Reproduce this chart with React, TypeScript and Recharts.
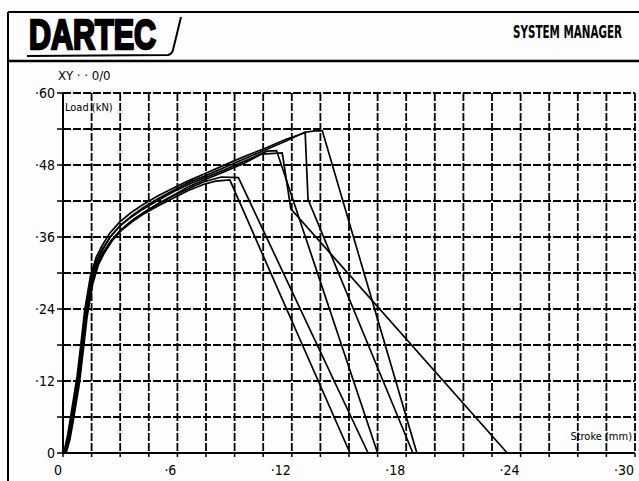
import { LineChart, Line, XAxis, YAxis, CartesianGrid } from 'recharts'

// stroke (mm) axis: labelled every 6, grid every 1.5
const strokeLabels = [0, 6, 12, 18, 24, 30]
const strokeGrid = [0, 1.5, 3, 4.5, 6, 7.5, 9, 10.5, 12, 13.5, 15, 16.5, 18, 19.5, 21, 22.5, 24, 25.5, 27, 28.5, 30]

// load (kN) axis: labelled every 12, grid every 6
const loadLabels = [0, 12, 24, 36, 48, 60]
const loadGrid = [0, 6, 12, 18, 24, 30, 36, 42, 48, 54, 60]

// [stroke, load] readings for each test run
const run1 = [
  [0.1, 0], [0.3, 2.5], [0.5, 6.2], [0.8, 12.2], [1.0, 17.6], [1.2, 23.2], [1.5, 28.8], [1.8, 31.6],
  [2.1, 33.4], [2.5, 35.3], [3.0, 37.0], [3.6, 38.5], [4.2, 39.8], [5.0, 41.2], [5.8, 42.5], [6.6, 43.8],
  [7.4, 44.8], [8.0, 45.3], [8.75, 45.5], [15.05, 0], [16.4, 0],
]
const run2 = [
  [0.13, 0], [0.33, 2.4], [0.53, 6.0], [0.83, 12.0], [1.03, 17.4], [1.23, 23.0], [1.53, 28.5], [1.83, 31.6],
  [2.13, 33.4], [2.53, 35.4], [3.03, 37.2], [3.63, 38.8], [4.23, 40.1], [5.03, 41.6], [5.83, 42.9], [6.6, 44.1],
  [7.4, 45.2], [8.3, 46.0], [9.2, 45.9], [16.0, 0],
]
const run3 = [
  [0.07, 0], [0.27, 2.7], [0.47, 6.5], [0.77, 12.5], [0.97, 17.9], [1.17, 23.5], [1.47, 29.1], [1.77, 32.2],
  [2.07, 34.0], [2.47, 36.0], [2.97, 37.8], [3.57, 39.3], [4.17, 40.6], [4.97, 42.1], [5.77, 43.5], [6.6, 44.8],
  [7.4, 45.8], [8.4, 47.1], [9.5, 48.6], [10.7, 50.3], [11.2, 50.4], [16.5, 0],
]
const run4 = [
  [0.16, 0], [0.36, 2.2], [0.56, 5.8], [0.86, 11.6], [1.06, 17.0], [1.26, 22.6], [1.56, 28.2], [1.86, 31.4],
  [2.16, 33.3], [2.56, 35.3], [3.06, 37.1], [3.66, 38.7], [4.26, 40.1], [5.06, 41.7], [5.86, 43.1], [6.6, 44.4],
  [7.4, 45.5], [8.4, 46.8], [9.5, 48.3], [10.4, 49.8], [11.5, 50.0], [11.95, 40.7], [23.3, 0],
]
const run5 = [
  [0.1, 0], [0.3, 2.6], [0.5, 6.3], [0.8, 12.3], [1.0, 17.7], [1.2, 23.3], [1.5, 29.0], [1.8, 32.1],
  [2.1, 34.0], [2.5, 36.1], [3.0, 37.9], [3.6, 39.5], [4.2, 40.9], [5.0, 42.4], [5.8, 43.8], [6.6, 45.1],
  [7.4, 46.1], [8.4, 47.5], [9.5, 49.0], [10.6, 50.5], [11.7, 52.0], [12.7, 53.5], [12.85, 42.3], [18.35, 0],
]
const run6 = [
  [0.04, 0], [0.24, 2.9], [0.44, 6.8], [0.74, 12.8], [0.94, 18.2], [1.14, 23.8], [1.44, 29.5], [1.74, 32.6],
  [2.04, 34.5], [2.44, 36.6], [2.94, 38.4], [3.54, 40.0], [4.14, 41.3], [4.94, 42.8], [5.74, 44.1], [6.6, 45.4],
  [7.4, 46.5], [8.4, 47.9], [9.5, 49.4], [10.6, 50.8], [11.7, 52.3], [12.8, 53.5], [13.2, 53.7], [13.6, 53.7],
  [18.56, 0],
]

const runs = [run1, run2, run3, run4, run5, run6].map(r => r.map(([stroke, load]) => ({ stroke, load })))

const narrow = "'Liberation Sans Narrow', 'DejaVu Sans Condensed', sans-serif"

const fmt = (v: number) => (v === 0 ? '0' : '\u00b7' + v)

const StrokeTick = (props: any) => {
  const { x, y, payload } = props
  if (!strokeLabels.includes(payload.value)) return null
  return (
    <text x={x - 1} y={y + 16} textAnchor="end" fontSize={14} fontFamily={narrow} fill="#000">
      {fmt(payload.value)}
    </text>
  )
}

const LoadTick = (props: any) => {
  const { x, y, payload } = props
  if (!loadLabels.includes(payload.value)) return null
  return (
    <text x={x} y={y + 5} textAnchor="end" fontSize={14} fontFamily={narrow} fill="#000">
      {fmt(payload.value)}
    </text>
  )
}

export default function App() {
  return (
    <div style={{ position: 'fixed', left: 0, top: 0, width: 639, height: 481, background: '#fdfdfd' }}>
      <svg width={639} height={481} style={{ position: 'absolute', left: 0, top: 0 }}>
        {/* printout frame + header */}
        <line x1={8} y1={12} x2={639} y2={12} stroke="#000" strokeWidth={2} />
        <line x1={8} y1={12} x2={8} y2={481} stroke="#000" strokeWidth={2} />
        <line x1={8} y1={61} x2={639} y2={61} stroke="#000" strokeWidth={2.5} />
        <path d="M27 56 L168 55 Q172 54 173 50 L181 17" fill="none" stroke="#000" strokeWidth={2} />
        <text x={29} y={49} fontSize={42} fontWeight={900} fontFamily="'Liberation Sans', sans-serif"
          textLength={127} lengthAdjust="spacingAndGlyphs" fill="#000" stroke="#000" strokeWidth={2.6}
          strokeLinejoin="miter">DARTEC</text>
        <g transform="translate(513 38) scale(1 1.35)">
          <text x={0} y={0} fontSize={13} fontWeight={700} fontFamily={narrow}
            textLength={109} lengthAdjust="spacingAndGlyphs" fill="#000">SYSTEM MANAGER</text>
        </g>
        <text x={58} y={80} fontSize={13} fontFamily={narrow} fill="#000">XY · · 0/0</text>
      </svg>
      <div style={{ position: 'absolute', left: 0, top: 0 }}>
        <LineChart width={639} height={481} margin={{ top: 93, right: 4, left: 0, bottom: 0 }}>
          <CartesianGrid stroke="#000" strokeWidth={1.8} strokeDasharray="8 2" />
          <XAxis
            type="number"
            dataKey="stroke"
            domain={[0, 30]}
            ticks={strokeGrid}
            interval={0}
            height={28}
            tick={<StrokeTick />}
            tickSize={4}
            tickMargin={2}
            axisLine={{ stroke: '#000', strokeWidth: 2 }}
            tickLine={{ stroke: '#000', strokeWidth: 1.5 }}
            allowDuplicatedCategory={false}
          />
          <YAxis
            type="number"
            dataKey="load"
            domain={[0, 60]}
            ticks={loadGrid}
            interval={0}
            width={63}
            tick={<LoadTick />}
            tickSize={6}
            tickMargin={2}
            axisLine={{ stroke: '#000', strokeWidth: 2 }}
            tickLine={{ stroke: '#000', strokeWidth: 1.5 }}
          />
          {runs.map((data, i) => (
            <Line
              key={i}
              data={data}
              dataKey="load"
              type="linear"
              stroke="#000"
              strokeWidth={1.7}
              dot={false}
              activeDot={false}
              isAnimationActive={false}
            />
          ))}
          <text x={65} y={111} fontSize={11} fontFamily={narrow} fill="#000">Load (kN)</text>
          <text x={632} y={440} fontSize={11} fontFamily={narrow} textAnchor="end" fill="#000">Stroke (mm)</text>
        </LineChart>
      </div>
    </div>
  )
}
